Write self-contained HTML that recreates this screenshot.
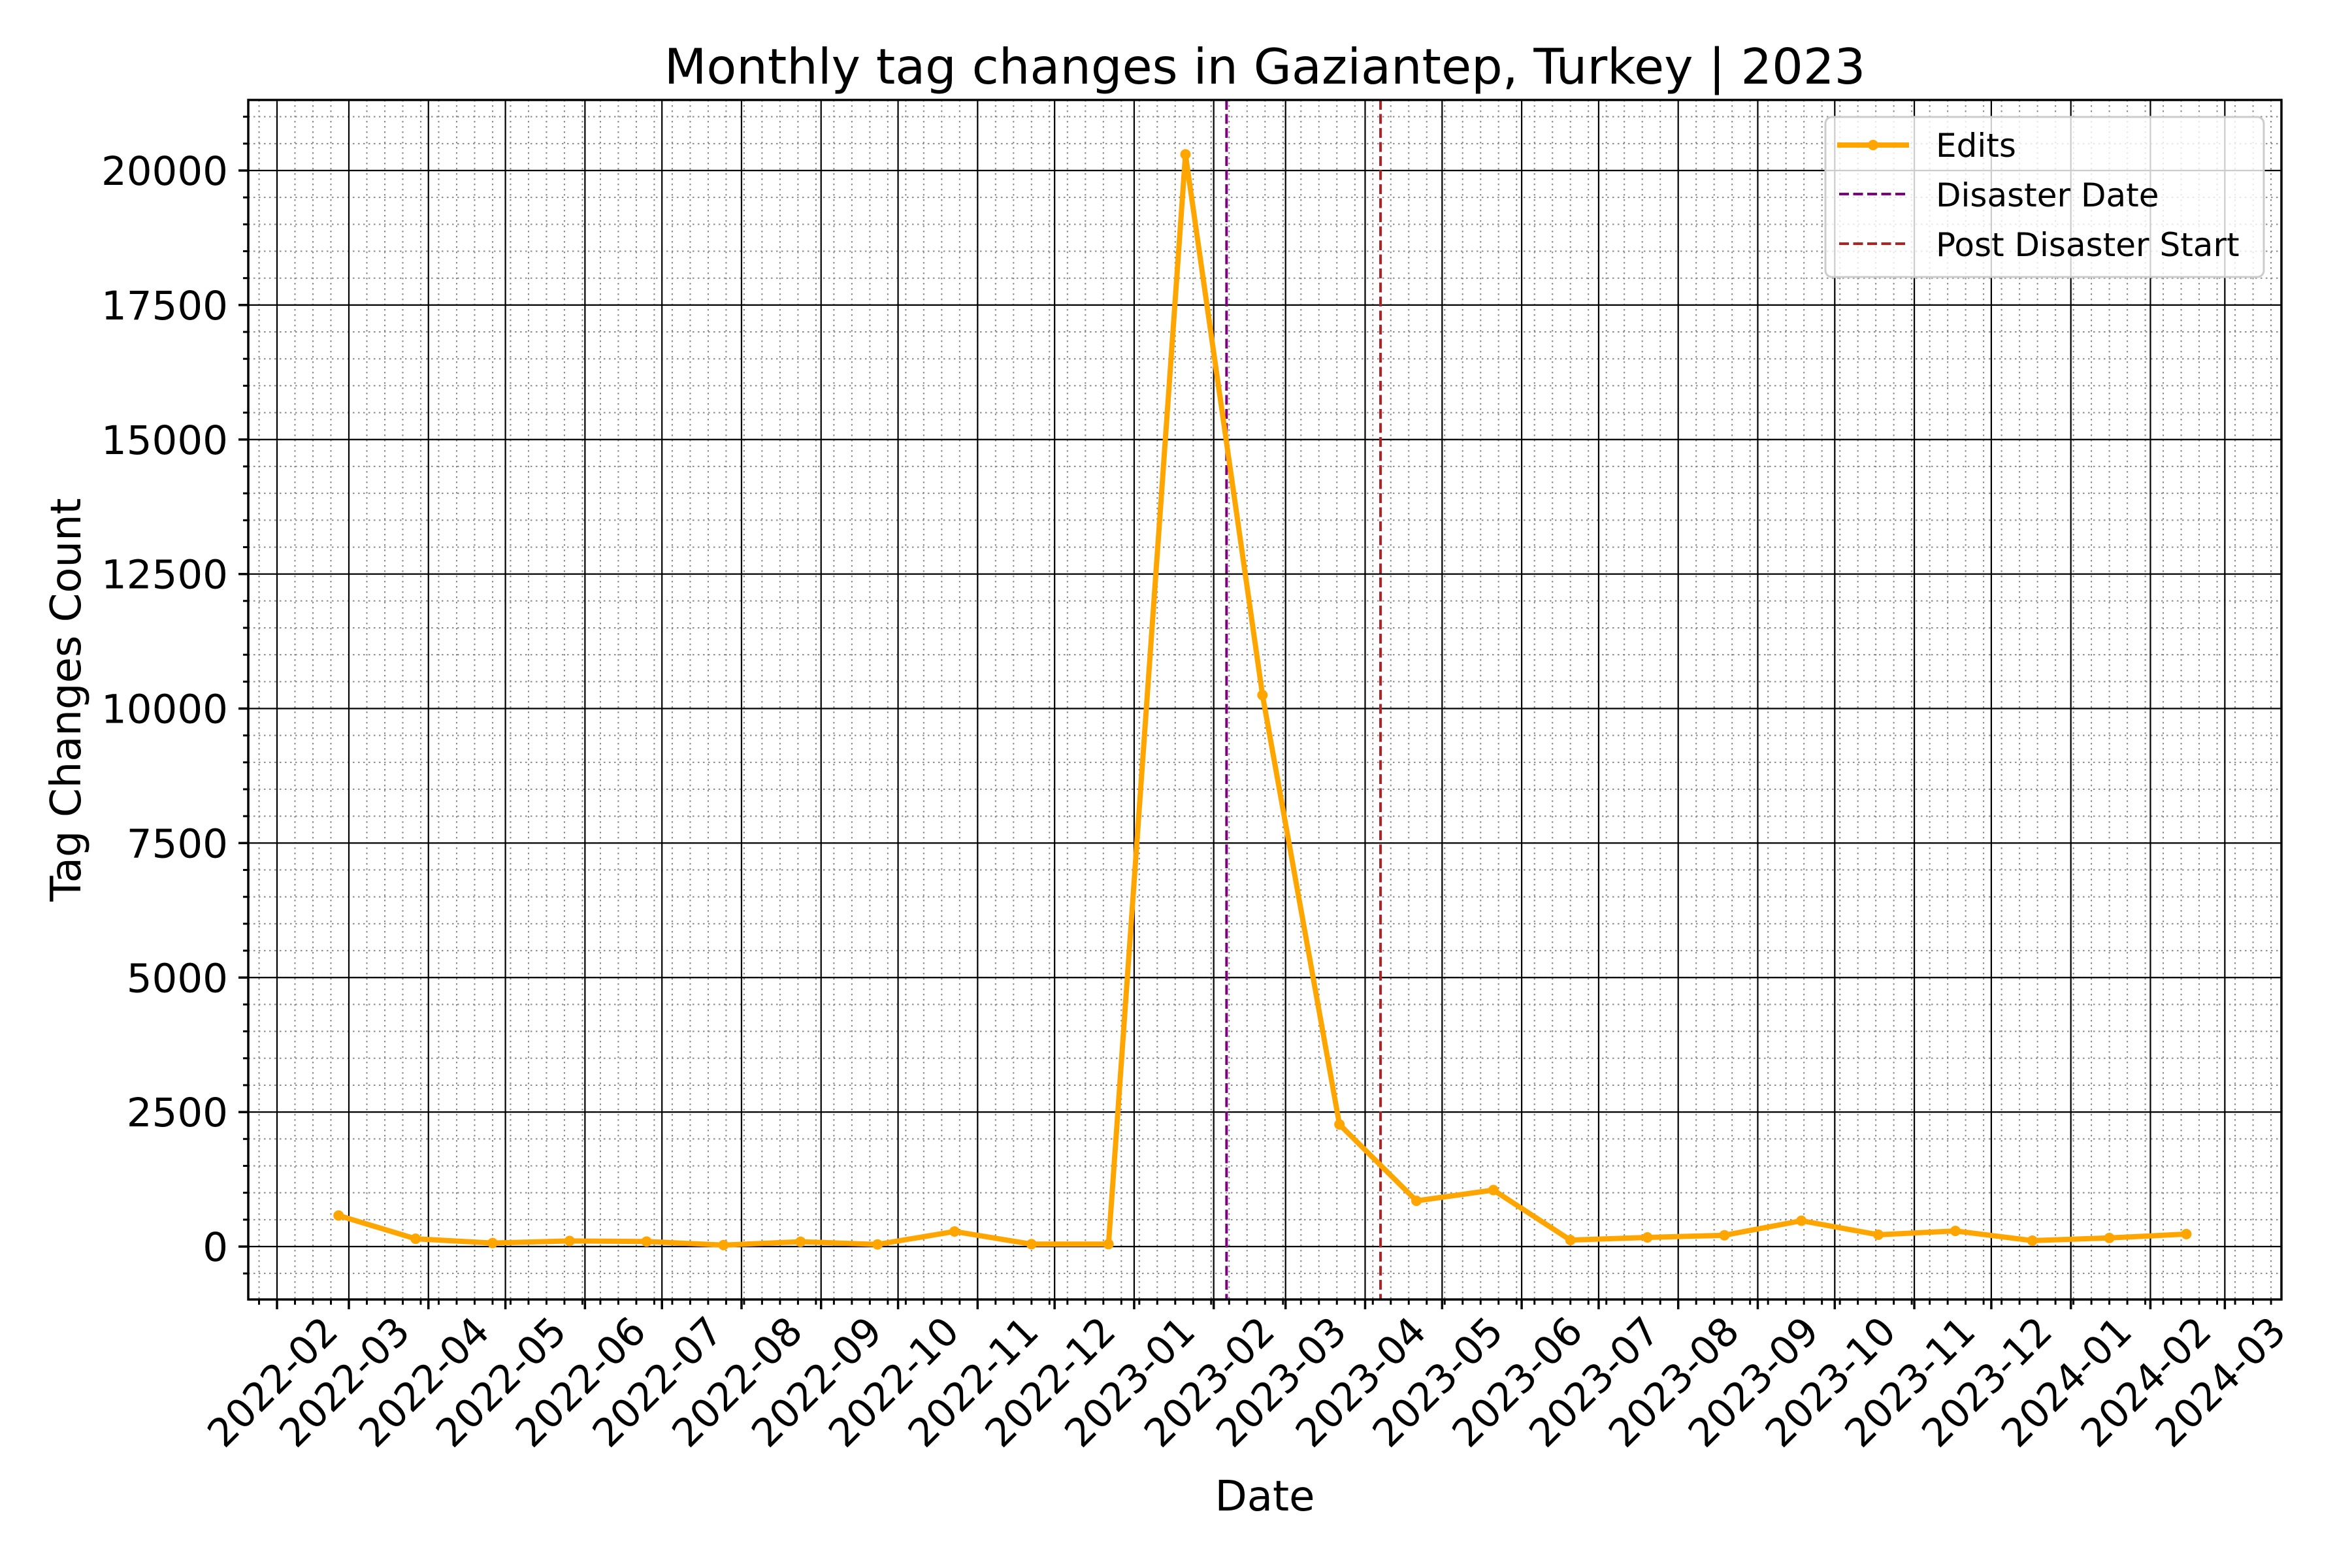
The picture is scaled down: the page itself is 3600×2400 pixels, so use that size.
<!DOCTYPE html>
<html>
<head>
<meta charset="utf-8">
<style>
  html, body { margin: 0; padding: 0; background: #ffffff; }
  svg { display: block; }
  text { font-family: "DejaVu Sans", "Liberation Sans", sans-serif; fill: #000; }
</style>
</head>
<body>
<svg id="chart" width="3600" height="2400" viewBox="0 0 3600 2400" xmlns="http://www.w3.org/2000/svg">
  <rect x="0" y="0" width="3600" height="2400" fill="#ffffff"/>
  <g id="grid-minor"></g>
  <g id="grid-major"></g>
  <g id="vlines"></g>
  <g id="series"></g>
  <g id="axes"></g>
  <text x="1936" y="128" font-size="75" text-anchor="middle">Monthly tag changes in Gaziantep, Turkey | 2023</text>
  <text x="1936" y="2312" font-size="64" text-anchor="middle">Date</text>
  <text x="0" y="0" font-size="64" text-anchor="middle" transform="translate(123,1071) rotate(-90)">Tag Changes Count</text>
  <g id="legend">
    <rect x="2794" y="179" width="671" height="245" rx="10" ry="10" fill="#ffffff" fill-opacity="0.8" stroke="#cccccc" stroke-width="3"/>
    <g>
      <line x1="2812" y1="222" x2="2922" y2="222" stroke="#FFA500" stroke-width="8"/>
      <circle cx="2867" cy="222" r="8" fill="#FFA500"/>
      <text x="2963" y="240" font-size="50">Edits</text>
    </g>
    <g>
      <line x1="2815" y1="297" x2="2922" y2="297" stroke="#800080" stroke-width="4" stroke-dasharray="15,6.5"/>
      <text x="2963" y="316" font-size="50">Disaster Date</text>
    </g>
    <g>
      <line x1="2815" y1="373" x2="2922" y2="373" stroke="#B22222" stroke-width="4" stroke-dasharray="15,6.5"/>
      <text x="2963" y="392" font-size="50">Post Disaster Start</text>
    </g>
  </g>
</svg>
<script>
// ---- data ----
const dates = ["2022-02-25","2022-03-27","2022-04-26","2022-05-26","2022-06-25","2022-07-25","2022-08-24","2022-09-23","2022-10-23","2022-11-22","2022-12-22","2023-01-21","2023-02-20","2023-03-22","2023-04-21","2023-05-21","2023-06-20","2023-07-20","2023-08-19","2023-09-18","2023-10-18","2023-11-17","2023-12-17","2024-01-16","2024-02-15"];
const edits = [577,145,65,105,93,28,90,40,280,45,45,20300,10250,2270,850,1050,120,170,210,480,220,290,110,160,232];
const monthTicks = ["2022-02","2022-03","2022-04","2022-05","2022-06","2022-07","2022-08","2022-09","2022-10","2022-11","2022-12","2023-01","2023-02","2023-03","2023-04","2023-05","2023-06","2023-07","2023-08","2023-09","2023-10","2023-11","2023-12","2024-01","2024-02","2024-03"];
const yTicks = [0,2500,5000,7500,10000,12500,15000,17500,20000];
const disasterDate = "2023-02-06";
const postDisasterStart = "2023-04-07";

// ---- axes geometry ----
const L = 380, R = 3492, T = 153, B = 1989;
const DAY = 86400000;
const origin = Date.UTC(2022,1,1);
const pxPerDay = 3.928;
const x0px = 424;
function dayOf(s){ const p = s.split("-").map(Number); return (Date.UTC(p[0], p[1]-1, p[2]||1) - origin)/DAY; }
function X(s){ return x0px + dayOf(s)*pxPerDay; }
function Xd(d){ return x0px + d*pxPerDay; }
const yZero = 1908, pxPerUnit = 0.08235;
function Y(v){ return yZero - v*pxPerUnit; }
const NS = "http://www.w3.org/2000/svg";
function mk(tag, attrs, parent){ const e = document.createElementNS(NS, tag); for (const k in attrs) e.setAttribute(k, attrs[k]); parent.appendChild(e); return e; }

const gMinor = document.getElementById("grid-minor");
const gMajor = document.getElementById("grid-major");
const gAxes = document.getElementById("axes");
const gV = document.getElementById("vlines");
const gS = document.getElementById("series");

// minor grid: weekly x, 500 y
const dMin = (L - x0px)/pxPerDay, dMax = (R - x0px)/pxPerDay;
for (let d = -7; d <= dMax; d += 7) {
  if (d < dMin) continue;
  const x = Xd(d);
  const ln = mk("line", {x1:x, y1:T, x2:x, y2:B, stroke:"#888888", "stroke-width":2, "stroke-dasharray":"2.5,5.5"}, gMinor);
  
  
  const tk = mk("line", {x1:x, y1:B, x2:x, y2:B+8, stroke:"#000", "stroke-width":3}, gAxes);
  
  
}
for (let v = -500; v <= 21000; v += 500) {
  const y = Y(v);
  if (y < T || y > B) continue;
  const ln = mk("line", {x1:L, y1:y, x2:R, y2:y, stroke:"#888888", "stroke-width":2, "stroke-dasharray":"2.5,5.5"}, gMinor);
  
  
  const tk = mk("line", {x1:L-8, y1:y, x2:L, y2:y, stroke:"#000", "stroke-width":3}, gAxes);
  
  
}
// major grid + labels
monthTicks.forEach(m => {
  const x = X(m);
  const ln = mk("line", {x1:x, y1:T, x2:x, y2:B, stroke:"#000", "stroke-width":2.2}, gMajor);
  
  
  const tk = mk("line", {x1:x, y1:B, x2:x, y2:B+15, stroke:"#000", "stroke-width":3.5}, gAxes);
  
  
  const t = mk("text", {x:0, y:0, "font-size":60, "text-anchor":"middle", transform:"translate("+(x+8)+",2130) rotate(-45)"}, gAxes);
  
  
  t.textContent = m;
});
yTicks.forEach(v => {
  const y = Y(v);
  const ln = mk("line", {x1:L, y1:y, x2:R, y2:y, stroke:"#000", "stroke-width":2.2}, gMajor);
  
  
  const tk = mk("line", {x1:L-15, y1:y, x2:L, y2:y, stroke:"#000", "stroke-width":3.5}, gAxes);
  
  
  const t = mk("text", {x:349, y:y+22, "font-size":61, "text-anchor":"end"}, gAxes);
  
  
  t.textContent = String(v);
});
// spines
const sp = mk("rect", {x:L, y:T, width:R-L, height:B-T, fill:"none", stroke:"#000", "stroke-width":3.5}, gAxes);



// event lines
const v1 = mk("line", {x1:X(disasterDate), y1:T, x2:X(disasterDate), y2:B, stroke:"#800080", "stroke-width":4, "stroke-dasharray":"15,6.5"}, gV);


const v2 = mk("line", {x1:X(postDisasterStart), y1:T, x2:X(postDisasterStart), y2:B, stroke:"#B22222", "stroke-width":4, "stroke-dasharray":"15,6.5"}, gV);



// series
const pts = dates.map((d,i) => X(d).toFixed(1)+","+Y(edits[i]).toFixed(1)).join(" ");
const pl = mk("polyline", {points:pts, fill:"none", stroke:"#FFA500", "stroke-width":8, "stroke-linejoin":"round"}, gS);


dates.forEach((d,i) => {
  const c = mk("circle", {cx:X(d), cy:Y(edits[i]), r:8, fill:"#FFA500"}, gS);
  
  
});
</script>
</body>
</html>
